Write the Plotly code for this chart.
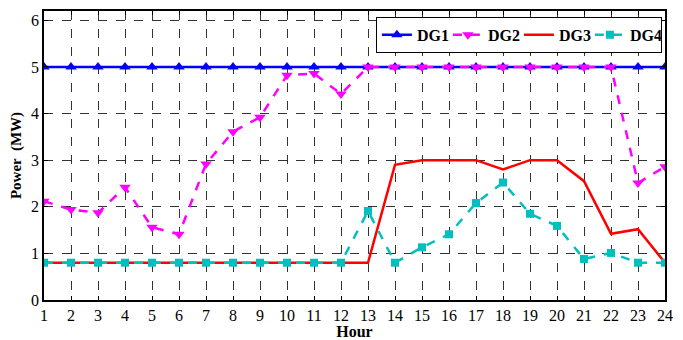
import plotly.graph_objects as go

hours = list(range(1, 25))
dg1 = [5.0] * 24
dg2 = [2.12, 1.94, 1.87, 2.42, 1.56, 1.41, 2.92, 3.61, 3.92, 4.82, 4.86, 4.42,
       5.0, 5.0, 5.0, 5.0, 5.0, 5.0, 5.0, 5.0, 5.0, 5.0, 2.51, 2.86]
dg3 = [0.8] * 13 + [2.9, 3.0, 3.0, 3.0, 2.8, 3.0, 3.0, 2.55, 1.42, 1.52, 0.8]
dg4 = [0.8] * 12 + [1.91, 0.8, 1.13, 1.41, 2.08, 2.52, 1.85, 1.59, 0.88, 1.01, 0.8, 0.8]
y_ticks = [0, 1, 2, 3, 4, 5, 6]

font = "Liberation Serif"

fig = go.Figure()
fig.add_trace(go.Scatter(x=hours, y=dg1, name="<b>DG1</b>", mode="lines+markers",
                         line=dict(color="#0000ff", width=2.5),
                         marker=dict(symbol="triangle-up", size=10, color="#0000ff")))
fig.add_trace(go.Scatter(x=hours, y=dg2, name="<b>DG2</b>", mode="lines+markers",
                         line=dict(color="#ff00ff", width=2.5, dash="dash"),
                         marker=dict(symbol="triangle-down", size=10, color="#ff00ff")))
fig.add_trace(go.Scatter(x=hours, y=dg3, name="<b>DG3</b>", mode="lines",
                         line=dict(color="#ff0000", width=2.5)))
fig.add_trace(go.Scatter(x=hours, y=dg4, name="<b>DG4</b>", mode="lines+markers",
                         line=dict(color="#00bfbf", width=2.5, dash="dash"),
                         marker=dict(symbol="square", size=8, color="#00bfbf")))

axis_common = dict(showline=True, linecolor="black", linewidth=1.5, mirror="ticks",
                   ticks="inside", ticklen=4, tickcolor="black",
                   showgrid=True, gridcolor="#333333", griddash="dash", gridwidth=1,
                   zeroline=False, tickfont=dict(family=font, size=16, color="black"))

fig.update_xaxes(range=[1, 24], tickvals=hours, ticktext=[str(h) for h in hours],
                 title=dict(text="<b>Hour</b>", font=dict(family=font, size=16, color="black"), standoff=0),
                 **axis_common)
fig.update_yaxes(range=[0, 6.2], tickvals=y_ticks,
                 title=dict(text="<b>Power  (MW)</b>", font=dict(family=font, size=15, color="black"), standoff=8),
                 **axis_common)

fig.update_layout(
    width=675, height=332,
    margin=dict(l=36, r=18, t=1, b=40),
    paper_bgcolor="white", plot_bgcolor="white",
    legend=dict(orientation="h", x=0.995, xanchor="right", y=0.98, yanchor="top",
                bgcolor="white", bordercolor="black", borderwidth=1,
                font=dict(family=font, size=16, color="black"),
                itemwidth=30, entrywidth=26, entrywidthmode="pixels", tracegroupgap=0),
    showlegend=True,
)

fig.write_html("out.html")
